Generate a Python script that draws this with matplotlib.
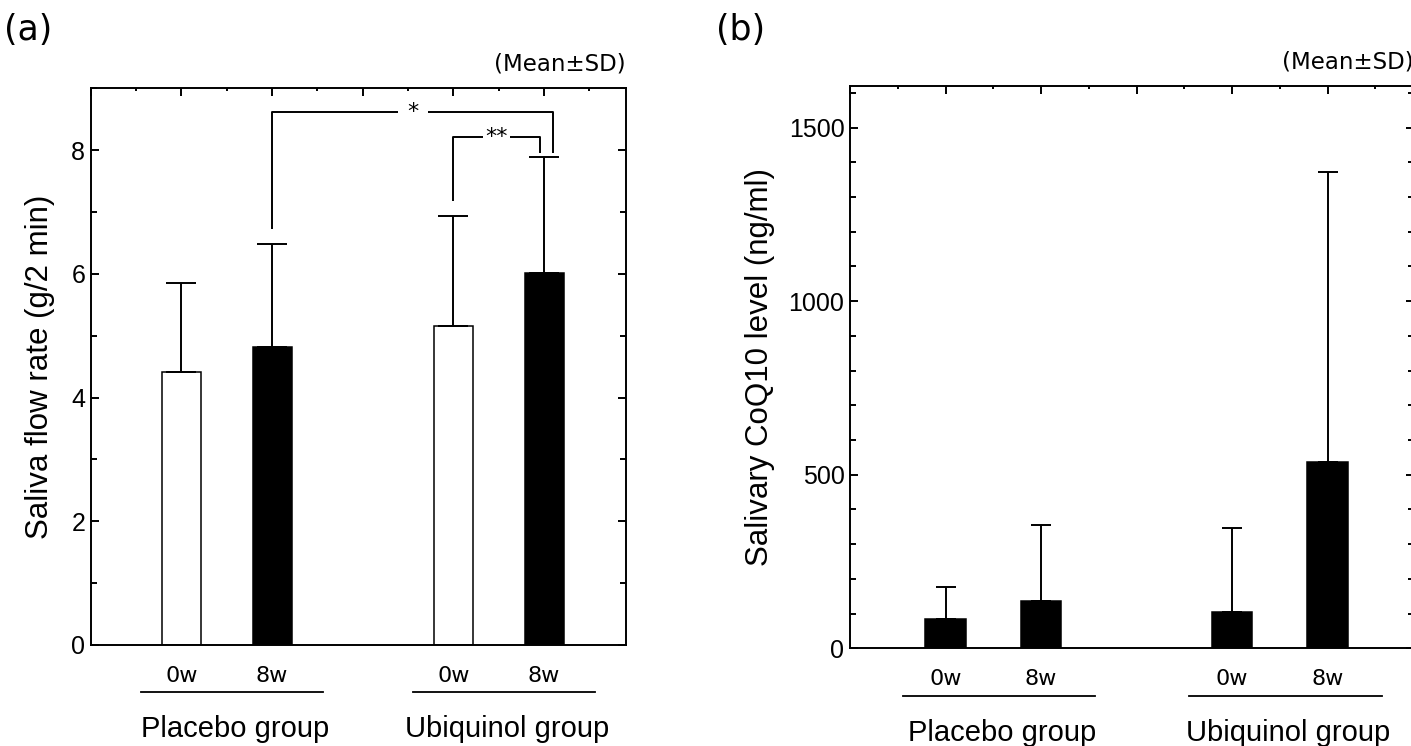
"""
Saliva flow rate and salivary CoQ10 level, placebo vs ubiquinol, 0w / 8w bar charts.
"""

import numpy as np
import matplotlib
matplotlib.use('Agg')
import matplotlib.pyplot as plt
import matplotlib.transforms as mtransforms
from matplotlib.ticker import MultipleLocator

plt.rcParams['font.family'] = ['Liberation Sans', 'DejaVu Sans']

# Data
GROUPS = ['Placebo group', 'Ubiquinol group']
TIMEPOINTS = ['0w', '8w']

FLOW_MEAN = [4.41, 4.81, 5.16, 6.02]     # g/2 min
FLOW_SD = [1.45, 1.68, 1.78, 1.87]
FLOW_FILL = ['white', 'black', 'white', 'black']

COQ_MEAN = [84, 137, 105, 537]           # ng/ml
COQ_SD = [94, 219, 242, 834]
COQ_FILL = ['black', 'black', 'black', 'black']

# (bar i, bar j, label) significance brackets for panel (a)
FLOW_SIG = [(1, 3, '*'), (2, 3, '**')]

W, H, DPI = 1411, 746, 100
LW = 1.4


def bar_positions():
    # 2 bars per group, groups 6 units apart, bars 2 units apart
    return [2 + 6 * g + 2 * t for g in range(len(GROUPS)) for t in range(len(TIMEPOINTS))]


def draw_panel(ax, mean, sd, fill, ylim, ymajor, yminor, ylabel, ylabel_x, capsize, width):
    xs = bar_positions()
    ax.bar(xs, mean, width=width, color=fill, edgecolor='black', linewidth=1.1, zorder=2)
    ax.errorbar(xs, mean, yerr=[np.zeros(len(sd)), sd], fmt='none', ecolor='black',
                elinewidth=LW, capsize=capsize, capthick=LW, zorder=3)

    ax.set_xlim(0, 11.8)
    ax.set_ylim(*ylim)
    for sp in ax.spines.values():
        sp.set_linewidth(LW)

    ax.xaxis.set_major_locator(MultipleLocator(2))
    ax.xaxis.set_minor_locator(MultipleLocator(1))
    ax.yaxis.set_major_locator(MultipleLocator(ymajor))
    ax.yaxis.set_minor_locator(MultipleLocator(yminor))
    ax.tick_params(axis='x', which='both', direction='in', bottom=False, top=True,
                   labelbottom=False, labeltop=False, width=LW)
    ax.tick_params(axis='x', which='major', length=5.5)
    ax.tick_params(axis='x', which='minor', length=2.5)
    ax.tick_params(axis='y', which='both', direction='in', left=True, right=True,
                   labelright=False, width=LW, labelsize=18, pad=4)
    ax.tick_params(axis='y', which='major', length=5.5)
    ax.tick_params(axis='y', which='minor', length=4.5)

    ax.text(ylabel_x, 0.5, ylabel, rotation=90, ha='center', va='center',
            rotation_mode='anchor', fontsize=22.5, transform=ax.transAxes)
    ax.text(1.0, 1.043, '(Mean±SD)', ha='right', va='center', fontsize=16.5,
            family='DejaVu Sans', transform=ax.transAxes)

    # timepoint labels, group underline and group names under the axis
    trans = mtransforms.blended_transform_factory(ax.transData, ax.transAxes)
    for g, name in enumerate(GROUPS):
        x0, x1 = xs[2 * g], xs[2 * g + 1]
        for t, lab in enumerate(TIMEPOINTS):
            ax.text(xs[2 * g + t], -0.055, lab, ha='center', va='center', fontsize=16,
                    family='DejaVu Sans', transform=trans)
        ax.plot([x0 - 0.9, x1 + 1.13], [-0.084, -0.084], color='black', lw=1.3,
                transform=trans, clip_on=False)
        ax.text((x0 + x1) / 2 + 0.18, -0.15, name, ha='center', va='center',
                fontsize=21, transform=trans)


def draw_bracket(ax, x0, x1, y0, y1, ytop, label, gap):
    xm = (x0 + x1) / 2
    kw = dict(color='black', lw=LW, solid_capstyle='butt', zorder=4)
    ax.plot([x0, x0, xm - gap], [y0, ytop, ytop], **kw)
    ax.plot([xm + gap, x1, x1], [ytop, ytop, y1], **kw)
    ax.text(xm, ytop, label, ha='center', va='center', fontsize=16, family='DejaVu Sans')


fig = plt.figure(figsize=(W / DPI, H / DPI), dpi=DPI, facecolor='white')

# (a) saliva flow rate
ax1 = fig.add_axes([90.7 / W, 1 - 645 / H, 535 / W, 556.7 / H])
draw_panel(ax1, FLOW_MEAN, FLOW_SD, FLOW_FILL, (0, 9), 2, 1,
           'Saliva flow rate (g/2 min)', -0.095, 11, 0.86)

xs = bar_positions()
tops = np.array(FLOW_MEAN) + np.array(FLOW_SD)
sig_levels = [8.61, 8.21]
sig_right = [0.2, -0.1]
sig_gap = [0.33, 0.29]
for (i, j, lab), ytop, dx, gap in zip(FLOW_SIG, sig_levels, sig_right, sig_gap):
    x0, x1 = xs[i], xs[j] + dx
    draw_bracket(ax1, x0, x1, tops[i] + 0.23, tops[j] + 0.07, ytop, lab, gap)

# (b) salivary CoQ10 (right spine sits just past the image edge)
ax2 = fig.add_axes([850 / W, 1 - 648.3 / H, 563.5 / W, 562.3 / H])
draw_panel(ax2, COQ_MEAN, COQ_SD, COQ_FILL, (0, 1620), 500, 100,
           'Salivary CoQ10 level (ng/ml)', -0.16, 7.5, 0.85)

fig.text(28 / W, 1 - 30 / H, '(a)', ha='center', va='center', fontsize=25, family='DejaVu Sans')
fig.text(741 / W, 1 - 30 / H, '(b)', ha='center', va='center', fontsize=25, family='DejaVu Sans')

plt.savefig('out.png', dpi=DPI, facecolor='white')
plt.close()
